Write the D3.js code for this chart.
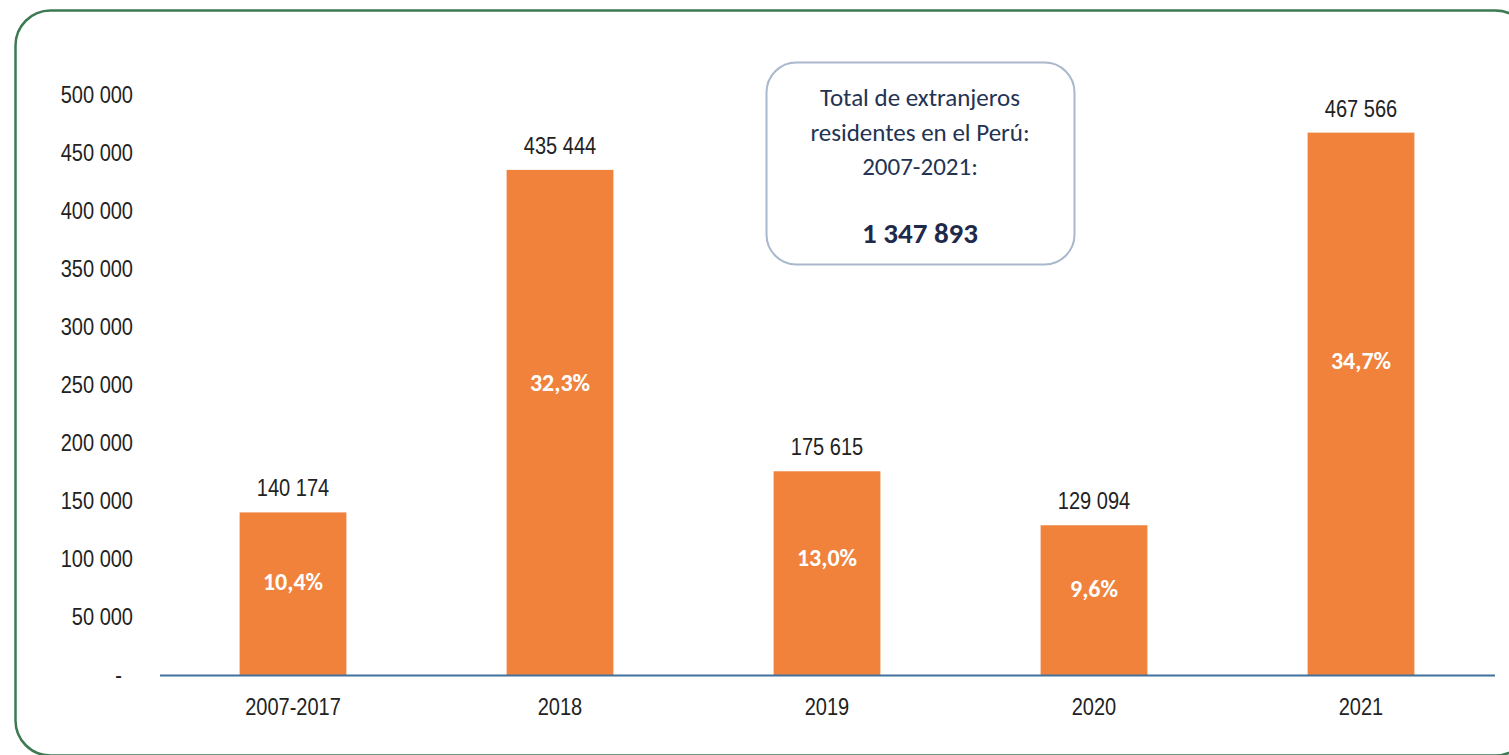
<!DOCTYPE html>
<html>
<head>
<meta charset="utf-8">
<script src="https://cdn.jsdelivr.net/npm/d3@7"></script>
<style>
  html, body { margin: 0; padding: 0; background: #fff; }
  svg { display: block; }
</style>
</head>
<body>
<div id="visualization"></div>
<script>
const categories = ['2007-2017', '2018', '2019', '2020', '2021'];
const residents = [140174, 435444, 175615, 129094, 467566];
const shares = ['10,4%', '32,3%', '13,0%', '9,6%', '34,7%'];
const yTicks = [0, 50000, 100000, 150000, 200000, 250000, 300000, 350000, 400000, 450000, 500000];
const boxLines = ['Total de extranjeros', 'residentes en el Perú:', '2007-2021:'];
const boxTotal = '1 347 893';

const width = 1509;
const height = 755;
const narrow = '"Liberation Sans Narrow", "Arial Narrow", "Liberation Sans", Arial, sans-serif';
const calibri = 'Carlito, Calibri, Lato, "Open Sans", sans-serif';
const squeeze = 'scale(0.87,1)';

const fmt = (v) => (v === 0 ? '-' : d3.format(',')(v).replace(/,/g, ' '));

const svg = d3.select('#visualization')
  .append('svg')
  .attr('width', width)
  .attr('height', height);

// outer rounded frame
svg.append('rect')
  .attr('x', 15.5)
  .attr('y', 10.5)
  .attr('width', 1515)
  .attr('height', 745)
  .attr('rx', 35)
  .attr('fill', 'none')
  .attr('stroke', '#3d7a52')
  .attr('stroke-width', 2.5);

const xScale = d3.scaleBand()
  .domain(categories)
  .range([159.5, 1494.5])
  .paddingInner(0.6)
  .paddingOuter(0.3);

const yScale = d3.scaleLinear()
  .domain([0, 500000])
  .range([675, 95]);

// y axis (labels only)
const yAxis = svg.append('g')
  .attr('transform', 'translate(133,0)')
  .call(d3.axisLeft(yScale).tickValues(yTicks).tickFormat(fmt).tickSize(0).tickPadding(0));
yAxis.select('.domain').remove();
yAxis.selectAll('text')
  .attr('font-family', narrow)
  .attr('font-size', 23)
  .attr('fill', '#222')
  .attr('transform', (d) => (d === 0 ? `translate(-11,0) ${squeeze}` : squeeze));

// bars
svg.selectAll('rect.bar')
  .data(categories)
  .enter()
  .append('rect')
  .attr('class', 'bar')
  .attr('x', (d) => xScale(d))
  .attr('width', xScale.bandwidth())
  .attr('y', (d, i) => yScale(residents[i]))
  .attr('height', (d, i) => yScale(0) - yScale(residents[i]))
  .attr('fill', '#f0823c');

// x axis
const xAxis = svg.append('g')
  .attr('transform', `translate(0,${yScale(0)})`)
  .call(d3.axisBottom(xScale).tickSize(0).tickPadding(24));
xAxis.select('.domain')
  .attr('stroke', '#41719c')
  .attr('stroke-width', 2);
xAxis.selectAll('text')
  .attr('font-family', narrow)
  .attr('font-size', 23)
  .attr('fill', '#222')
  .attr('transform', squeeze);

// value labels
svg.selectAll('text.value')
  .data(categories)
  .enter()
  .append('text')
  .attr('class', 'value')
  .attr('transform', (d, i) => `translate(${xScale(d) + xScale.bandwidth() / 2},${yScale(residents[i]) - 16}) ${squeeze}`)
  .attr('text-anchor', 'middle')
  .attr('font-family', narrow)
  .attr('font-size', 23)
  .attr('fill', '#222')
  .text((d, i) => fmt(residents[i]));

// share labels
svg.selectAll('text.share')
  .data(categories)
  .enter()
  .append('text')
  .attr('class', 'share')
  .attr('x', (d) => xScale(d) + xScale.bandwidth() / 2)
  .attr('y', (d, i) => {
    const top = yScale(residents[i]);
    return top + (yScale(0) - top) * 0.42 + 9;
  })
  .attr('text-anchor', 'middle')
  .attr('font-family', calibri)
  .attr('font-weight', 'bold')
  .attr('font-size', 24)
  .attr('fill', '#fff')
  .text((d, i) => shares[i]);

// total box
const box = svg.append('g');
box.append('rect')
  .attr('x', 766.5)
  .attr('y', 62.5)
  .attr('width', 308)
  .attr('height', 202)
  .attr('rx', 30)
  .attr('fill', '#fff')
  .attr('stroke', '#a9b8cc')
  .attr('stroke-width', 2);

box.selectAll('text.line')
  .data(boxLines)
  .enter()
  .append('text')
  .attr('class', 'line')
  .attr('x', 920)
  .attr('y', (d, i) => 106 + i * 34.5)
  .attr('text-anchor', 'middle')
  .attr('font-family', calibri)
  .attr('font-size', 25)
  .attr('fill', '#243352')
  .text((d) => d);

box.append('text')
  .attr('x', 920)
  .attr('y', 243)
  .attr('text-anchor', 'middle')
  .attr('font-family', calibri)
  .attr('font-weight', 'bold')
  .attr('font-size', 29)
  .attr('fill', '#1f2a4a')
  .text(boxTotal);
</script>
</body>
</html>
